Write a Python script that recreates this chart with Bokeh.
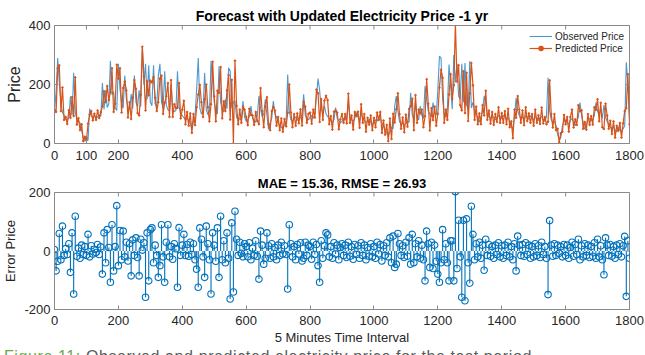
import math
from bokeh.plotting import figure
from bokeh.models import (FixedTicker, Legend, LegendItem, Div,
                          ColumnDataSource, Range1d)
from bokeh.layouts import column
from bokeh.embed import file_html
from bokeh.resources import INLINE

# 5-minute intervals (every 5th step shown)
interval = list(range(0, 1801, 5))

observed_price = [
    110, 175, 290, 205, 140, 105, 95, 82, 78, 88, 160, 95, 240, 105, 82, 76, 70, 45, 20, 8,
    25, 10, 118, 92, 88, 95, 85, 90, 98, 92, 205, 115, 180, 122, 135, 280, 165, 175, 120, 112,
    270, 185, 135, 120, 230, 150, 122, 115, 168, 118, 230, 140, 125, 180, 125, 325, 200, 270, 150, 265,
    140, 128, 265, 135, 125, 230, 270, 140, 120, 245, 130, 115, 110, 200, 118, 108, 112, 245, 125, 100,
    95, 88, 80, 85, 78, 72, 48, 75, 92, 185, 290, 120, 100, 110, 240, 115, 98, 105, 280, 215,
    140, 110, 100, 262, 140, 115, 108, 150, 118, 257, 245, 120, 140, 145, 88, 80, 85, 78, 144, 90,
    75, 82, 90, 127, 85, 78, 72, 95, 161, 120, 90, 100, 150, 95, 48, 70, 85, 144, 100, 90,
    70, 60, 55, 50, 65, 70, 234, 110, 80, 75, 85, 90, 80, 78, 88, 95, 167, 95, 85, 80,
    90, 95, 85, 100, 161, 220, 180, 116, 105, 127, 100, 92, 85, 78, 72, 80, 122, 85, 78, 70,
    75, 85, 80, 90, 139, 88, 80, 75, 85, 105, 90, 78, 105, 85, 80, 70, 75, 82, 70, 65,
    72, 80, 75, 90, 85, 70, 60, 45, 35, 28, 40, 55, 50, 127, 161, 110, 75, 65, 70, 60,
    68, 75, 72, 172, 95, 85, 139, 90, 80, 127, 95, 85, 195, 150, 110, 100, 90, 139, 105, 95,
    180, 296, 290, 150, 100, 90, 120, 268, 200, 116, 300, 207, 270, 160, 150, 270, 140, 273, 130, 116,
    280, 120, 140, 110, 100, 85, 72, 90, 110, 161, 139, 95, 90, 85, 92, 88, 80, 85, 95, 90,
    85, 95, 90, 80, 88, 75, 60, 48, 90, 155, 110, 95, 85, 90, 80, 95, 88, 82, 95, 85,
    80, 90, 85, 78, 88, 92, 80, 75, 90, 223, 110, 80, 72, 75, 60, 30, 12, 20, 60, 75,
    80, 70, 65, 78, 85, 72, 60, 75, 90, 139, 95, 70, 48, 62, 80, 85, 78, 82, 95, 139,
    110, 95, 120, 85, 130, 90, 75, 65, 55, 50, 60, 45, 40, 55, 45, 40, 50, 60, 275, 200,
    90,
]

# forecast error: predicted minus observed
error_price = [
    5, -68, -35, 60, -30, 85, -15, 8, -12, 25, -73, 62, -147, 119, -18, 10, -25, 20, -12, 15,
    -15, 57, -20, 18, -10, 6, -5, 22, -12, 14, -79, 62, -40, 73, 12, -107, 90, -68, 15, 155,
    -50, 70, -30, 68, -20, 30, -34, 25, -85, 38, -15, 45, -22, -85, 40, 3, 28, -158, 62, -102,
    73, 79, -40, 20, -15, -90, -50, 90, -20, -107, 30, 90, -20, 15, -28, 25, 8, -124, 80, -15,
    20, 57, -15, 22, -18, 30, -12, 25, -30, -62, -124, 79, 40, -20, -90, 85, 25, -30, -147, 62,
    20, -35, 79, -90, 119, -30, 35, -40, 62, -25, -164, 96, -140, 136, 40, -15, 30, -8, -20, 25,
    15, -20, 28, -30, 10, -15, 35, -18, -96, 68, 20, -45, -25, 62, 18, -25, 25, -20, 12, -30,
    20, -15, 30, -10, 18, -12, -130, 90, 25, -20, 15, -30, 22, -10, 28, -34, -25, 30, -15, 20,
    15, -28, 30, -12, 22, -50, -107, 35, -25, 18, 62, 55, -20, 15, -25, 28, -10, 20, -30, 12,
    25, -15, 20, -22, 30, -18, 15, -28, 22, -12, 18, -25, 28, -15, 20, -30, 12, -18, 25, -20,
    15, -25, 30, -10, 22, -34, 18, -15, 28, -20, 45, -40, 51, -56, -45, 60, 25, -15, 18, -22,
    30, -18, 45, -45, 57, -40, 25, -20, 35, -25, 20, -30, -102, 68, 25, -56, 30, -60, 20, -35,
    -79, -107, -40, 73, -30, 25, -40, -102, 35, 35, -102, 203, -60, 105, -20, -158, 105, -170, 110, -40,
    -110, 153, 57, -30, 25, -20, 30, -25, 20, -66, 40, -15, 22, -18, 15, -25, 20, -12, 28, -20,
    18, -25, 20, -15, 30, -20, 15, -30, 25, -68, 51, 20, -15, 22, -18, 28, -12, 20, -25, 15,
    -20, 25, -15, 18, -22, 30, -12, 15, -25, -149, 104, 20, -18, 25, -15, 20, -8, 15, -20, 22,
    -15, 20, -25, 12, 30, -18, 22, -12, 40, -30, 18, -20, 25, -15, 20, -22, 15, -18, 28, -25,
    40, -20, 18, -30, -81, 45, 20, -15, 22, -18, 15, -25, 20, -12, 25, -20, 18, 50, -155, 35,
    -25,
]

predicted_price = [o + e for o, e in zip(observed_price, error_price)]

top_x_ticks = [0, 100, 200, 400, 600, 800, 1000, 1200, 1400, 1600, 1800]
bottom_x_ticks = [0, 200, 400, 600, 800, 1000, 1200, 1400, 1600, 1800]
price_ticks = [0, 200, 400]
error_ticks = [-200, 0, 200]

FONT = "Liberation Sans"
TEXT = "#262626"
BOX = "#8a8a8a"
BLUE = "#0072BD"
OBS_BLUE = "#4a9ad0"
ORANGE = "#D95319"

src = ColumnDataSource(dict(t=interval, obs=observed_price,
                            pred=predicted_price, err=error_price))


def style_axis(ax, label_size="13px"):
    ax.major_tick_in = 4
    ax.major_tick_out = 0
    ax.minor_tick_in = 0
    ax.minor_tick_out = 0
    ax.major_tick_line_color = BOX
    ax.axis_line_color = BOX
    ax.major_label_text_font = FONT
    ax.major_label_text_font_size = label_size
    ax.major_label_text_color = TEXT
    ax.axis_label_text_font = FONT
    ax.axis_label_text_color = TEXT
    ax.axis_label_text_font_style = "normal"


def box_ticks(p, xticks, yticks, xr, yr):
    # inward tick marks on the top and right edges of the box;
    # half of each dash falls outside the frame and is clipped away
    p.scatter(x=xticks, y=yr[1], marker="dash", angle=math.pi / 2, size=8,
              line_color=BOX, line_width=1)
    p.scatter(x=xr[1], y=yticks, marker="dash", size=8,
              line_color=BOX, line_width=1)


def base_figure(height, xr, yr, top, bottom):
    p = figure(width=645, height=height, x_range=Range1d(*xr), y_range=Range1d(*yr),
               output_backend="svg", toolbar_location=None,
               min_border_left=54, min_border_right=16,
               min_border_top=top, min_border_bottom=bottom,
               background_fill_color="white", border_fill_color="white",
               outline_line_color=BOX, outline_line_width=1)
    p.grid.visible = False
    p.title.align = "center"
    p.title.text_font = FONT
    p.title.text_font_style = "bold"
    p.title.text_color = "#000000"
    return p


X_RANGE = (0, 1800)
PRICE_RANGE = (0, 400)
ERROR_RANGE = (-200, 200)

# ---- price series ----
p1 = base_figure(172, X_RANGE, PRICE_RANGE, 25, 29)
p1.title.text = "Forecast with Updated Electricity Price -1 yr"
p1.title.text_font_size = "14px"
p1.title.vertical_align = "top"
p1.title.standoff = 0

obs_r = p1.line("t", "obs", source=src, line_color=OBS_BLUE, line_width=1.1)
pred_r = p1.line("t", "pred", source=src, line_color=ORANGE, line_width=1.2)
dots_r = p1.scatter("t", "pred", source=src, marker="circle", size=1.6,
                    line_color=ORANGE, fill_color=ORANGE)

style_axis(p1.xaxis[0])
style_axis(p1.yaxis[0])
p1.xaxis[0].ticker = FixedTicker(ticks=top_x_ticks)
p1.yaxis[0].ticker = FixedTicker(ticks=price_ticks)
p1.xaxis[0].major_label_standoff = 7
p1.yaxis[0].major_label_standoff = 4
p1.yaxis[0].axis_label = "Price"
p1.yaxis[0].axis_label_text_font_size = "16px"
p1.yaxis[0].axis_label_standoff = 3
box_ticks(p1, top_x_ticks, price_ticks, X_RANGE, PRICE_RANGE)

legend = Legend(items=[LegendItem(label="Observed Price", renderers=[obs_r]),
                       LegendItem(label="Predicted Price", renderers=[pred_r, dots_r])],
                location="top_right", border_line_color=None, background_fill_alpha=0,
                label_text_font=FONT, label_text_font_size="10px", label_text_color=TEXT,
                glyph_width=23, glyph_height=12, label_height=12, spacing=0,
                label_standoff=3, padding=3, margin=5)
p1.add_layout(legend)

# ---- forecast error stems ----
p2 = base_figure(176, X_RANGE, ERROR_RANGE, 19, 39)
p2.title.text = "MAE = 15.36, RMSE = 26.93"
p2.title.text_font_size = "13px"
p2.title.standoff = 3

p2.segment(x0="t", y0=0, x1="t", y1="err", source=src, line_color=BLUE, line_width=1.1)
p2.scatter("t", "err", source=src, marker="circle", size=6.5, fill_color=None,
           line_color=BLUE, line_width=1.1)

style_axis(p2.xaxis[0])
style_axis(p2.yaxis[0])
p2.xaxis[0].ticker = FixedTicker(ticks=bottom_x_ticks)
p2.yaxis[0].ticker = FixedTicker(ticks=error_ticks)
p2.yaxis[0].major_label_overrides = {-200: "-200"}
p2.xaxis[0].major_label_standoff = 6
p2.yaxis[0].major_label_standoff = 4
p2.xaxis[0].axis_label = "5 Minutes Time Interval"
p2.xaxis[0].axis_label_text_font_size = "13px"
p2.xaxis[0].axis_label_standoff = 2
p2.yaxis[0].axis_label = "Error Price"
p2.yaxis[0].axis_label_text_font_size = "13px"
p2.yaxis[0].axis_label_standoff = 3
box_ticks(p2, bottom_x_ticks, error_ticks, X_RANGE, ERROR_RANGE)

# figure caption, running off the bottom edge of the page
caption = Div(
    text=('<div style="font-family:\'Liberation Sans\',Arial,sans-serif;font-size:16px;'
          'line-height:18px;white-space:nowrap;padding-left:4px;margin-top:0px;'
          'letter-spacing:0.6px;">'
          '<span style="color:#6aa84f;">Figure 11:</span> '
          '<span style="color:#595959;">Observed and predicted electricity price '
          'for the test period</span></div>'),
    width=645, height=7, styles={"overflow": "hidden", "margin": "0"})

layout = column(p1, p2, caption, spacing=0)
open("out.html", "w").write(file_html(layout, INLINE))
